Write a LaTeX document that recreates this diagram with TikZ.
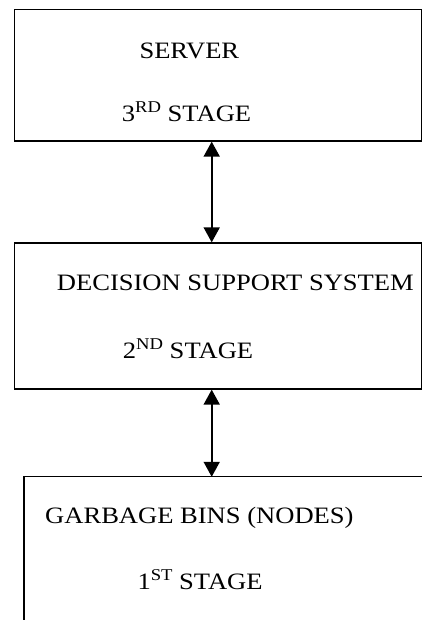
\documentclass[tikz,border=0pt]{standalone}
\usepackage{fontspec}
\usepackage{graphicx}
\setmainfont{Liberation Serif}
\usetikzlibrary{arrows.meta}
\newcommand{\stagesup}[1]{\raisebox{9pt}{\fontsize{16.5}{18}\selectfont #1}}
\begin{document}
\begin{tikzpicture}[x=1pt,y=-1pt,
  stagebox/.style={draw, line width=1.3pt, rectangle, inner sep=0pt},
  openbox/.style={draw=none, rectangle, inner sep=0pt},
  lbl/.style={anchor=base west, inner sep=0pt, font=\fontsize{23.5}{28}\selectfont},
  link/.style={line width=1.8pt, {Triangle[width=16pt,length=15pt]}-{Triangle[width=16pt,length=15pt]}}]
\useasboundingbox (0,0) rectangle (422,620);
\node[stagebox, minimum width=406.8pt, minimum height=131.5pt] (b1) at (217.9,75.25) {};
\node[stagebox, minimum width=406.8pt, minimum height=146pt] (b2) at (217.9,316) {};
\node[openbox, minimum width=397.7pt, minimum height=143pt] (b3) at (223.15,548.5) {};
\draw[line width=1.3pt] (b3.south west) |- (b3.north east);
\node[lbl] (t1) at (139.3,58.3) {\scalebox{1.13}[1]{SERVER}};
\node[lbl] (s1) at (121.7,121.7) {\scalebox{1.13}[1]{3\stagesup{RD} STAGE}};
\node[lbl] (t2) at (56.7,290.7) {\scalebox{1.13}[1]{DECISION SUPPORT SYSTEM}};
\node[lbl] (s2) at (122.7,358.3) {\scalebox{1.13}[1]{2\stagesup{ND} STAGE}};
\node[lbl] (t3) at (45,523.3) {\scalebox{1.13}[1]{GARBAGE BINS (NODES)}};
\node[lbl] (s3) at (137.3,589.3) {\scalebox{1.13}[1]{1\stagesup{ST} STAGE}};
\coordinate (ax) at (211.7,0);
\draw[link] (b1.south -| ax) -- (b2.north -| ax);
\draw[link] (b2.south -| ax) -- (b3.north -| ax);
\end{tikzpicture}
\end{document}
